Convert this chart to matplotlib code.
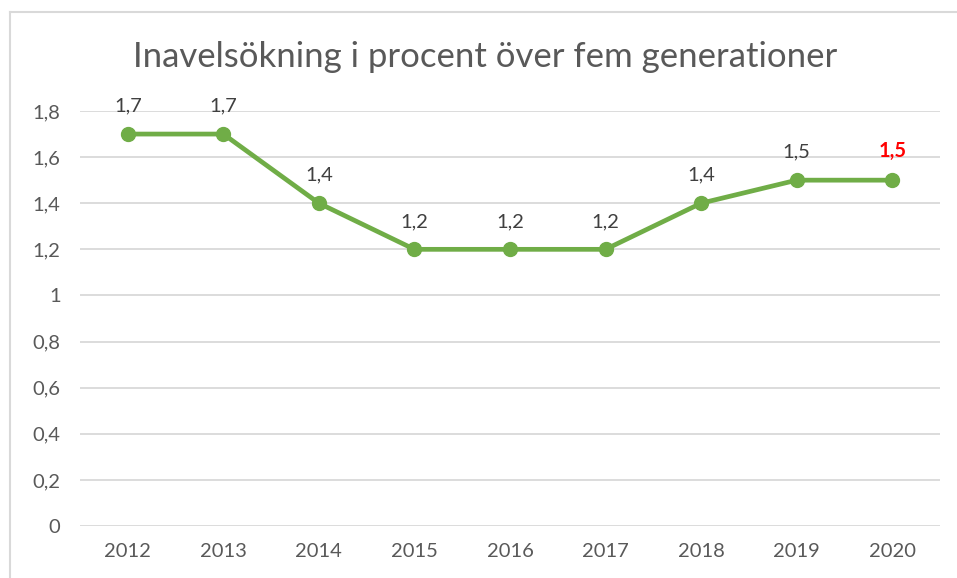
import matplotlib
matplotlib.use("Agg")
import matplotlib.pyplot as plt
from matplotlib.lines import Line2D

years = ["2012", "2013", "2014", "2015", "2016", "2017", "2018", "2019", "2020"]
values = [1.7, 1.7, 1.4, 1.2, 1.2, 1.2, 1.4, 1.5, 1.5]
yticks = [0, 0.2, 0.4, 0.6, 0.8, 1.0, 1.2, 1.4, 1.6, 1.8]
title = "Inavelsökning i procent över fem generationer"

plt.rcParams['font.family'] = ['Lato', 'DejaVu Sans']
W, H = 957, 578
fig = plt.figure(figsize=(W/100, H/100), dpi=100)
ax = fig.add_axes([80/W, 1-526/H, 860/W, 415/H])

x = list(range(len(years)))
green = '#70AD47'
ax.plot(x, values, color=green, lw=3.4, marker='o', ms=10, zorder=3,
        solid_capstyle='round')

for i, v in enumerate(values):
    lab = f"{v:.1f}".replace('.', ',')
    last = i == len(values) - 1
    ax.annotate(lab, (i, v), xytext=(0, 14), textcoords='offset points',
                ha='center', va='bottom', fontsize=14.5,
                color='#FF0000' if last else '#404040',
                fontweight='bold' if last else 'normal')

ax.set_xlim(-0.5, len(years) - 0.5)
ax.set_ylim(0, 1.8)
ax.set_xticks(x)
ax.set_xticklabels(years)
ax.set_yticks(yticks)
ax.set_yticklabels([("%g" % t).replace('.', ',') for t in yticks])
ax.tick_params(length=0, labelsize=14.5, colors='#595959', pad=14)
ax.tick_params(axis='x', pad=12)
ax.grid(axis='y', color='#D9D9D9', lw=1.3)
ax.set_axisbelow(True)
for s in ax.spines.values():
    s.set_visible(False)

fig.text(485/W, 1-57/H, title, ha='center', va='center', fontsize=25,
         color='#595959')

fig.add_artist(Line2D([10/W, 10/W], [0, 1-12/H], transform=fig.transFigure,
                      color='#D9D9D9', lw=1.5))
fig.add_artist(Line2D([10/W, 1], [1-12/H, 1-12/H], transform=fig.transFigure,
                      color='#D9D9D9', lw=1.5))

fig.savefig('out.png', dpi=100)
